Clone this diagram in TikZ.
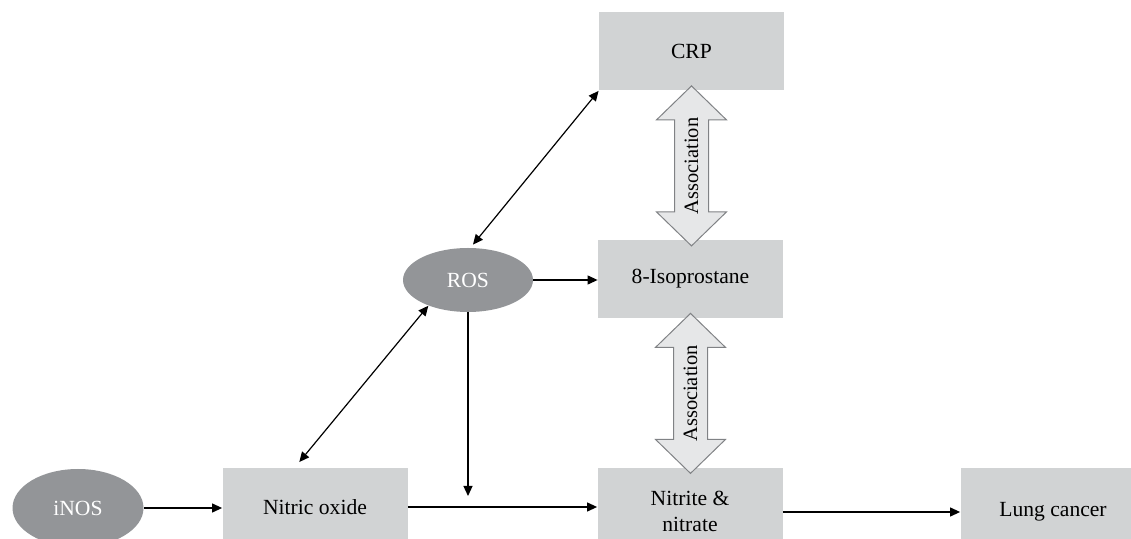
\documentclass[tikz,border=0pt]{standalone}
\usepackage{fontspec}
\setmainfont{Liberation Serif}
\usetikzlibrary{arrows.meta,calc,shapes.geometric}
\definecolor{boxgray}{HTML}{D1D3D4}
\definecolor{ovalgray}{HTML}{939598}
\definecolor{assocfill}{HTML}{E6E7E8}
\definecolor{assocline}{HTML}{808285}
\tikzset{
  box/.style={fill=boxgray,minimum width=92.5pt,minimum height=39pt,inner sep=0pt,align=center,font=\fontsize{10.8}{13}\selectfont},
  oval/.style={ellipse,fill=ovalgray,text=white,inner sep=0pt,font=\fontsize{10.8}{13}\selectfont},
  conn/.style={-{Triangle[length=5pt,width=4.5pt]},line width=0.6pt},
  biconn/.style={{Triangle[length=5pt,width=4.5pt]}-{Triangle[length=5pt,width=4.5pt]},line width=0.6pt},
  assoc/.style={fill=assocfill,draw=assocline,line width=0.5pt}
}
\begin{document}
\begin{tikzpicture}[x=0.5pt,y=-0.5pt]
\clip(0,0)rectangle(1131,539);
% boxes and ovals
\node[box](crp)at(691.5,51.5){CRP};
\node[box](iso)at(690.5,279){8-Isoprostane};
\node[box,minimum height=43pt](nit)at(690,511){Nitrite \&\\nitrate};
\node[box](no)at(315,507){Nitric oxide};
\node[box,minimum height=44pt](lung)at(1053,512){Lung cancer};
\node[oval,minimum width=65pt,minimum height=32pt](ros)at(468,280){ROS};
\node[oval,minimum width=65.5pt,minimum height=39pt](inos)at(78,508){iNOS};
\coordinate(rosend)at(468,496);
% association arrows
\foreach \a in {crp,iso}{
  \draw[assoc]($(\a.south)+(0,-5)$)--++(35,34)--++(-18,0)--++(0,92)--++(18,0)--++(-35,34)--++(-35,-34)--++(18,0)--++(0,-92)--++(-18,0)--cycle;
  \node[rotate=90,font=\fontsize{10.2}{12}\selectfont]at($(\a.south)+(0,75)$){Association};
}
% connectors
\draw[conn](inos)--(inos-|no.west);
\draw[conn](no)--(no-|nit.west);
\draw[conn](lung-|nit.east)--(lung);
\draw[conn](ros)--(ros-|iso.west);
\draw[conn](ros.south)--(rosend);
\draw[biconn](crp.south west)--($(ros.north)+(5,-3)$);
\draw[biconn,shorten <=1pt]($(no.north)+(-17,-4)$)--(ros.213);
\end{tikzpicture}
\end{document}
